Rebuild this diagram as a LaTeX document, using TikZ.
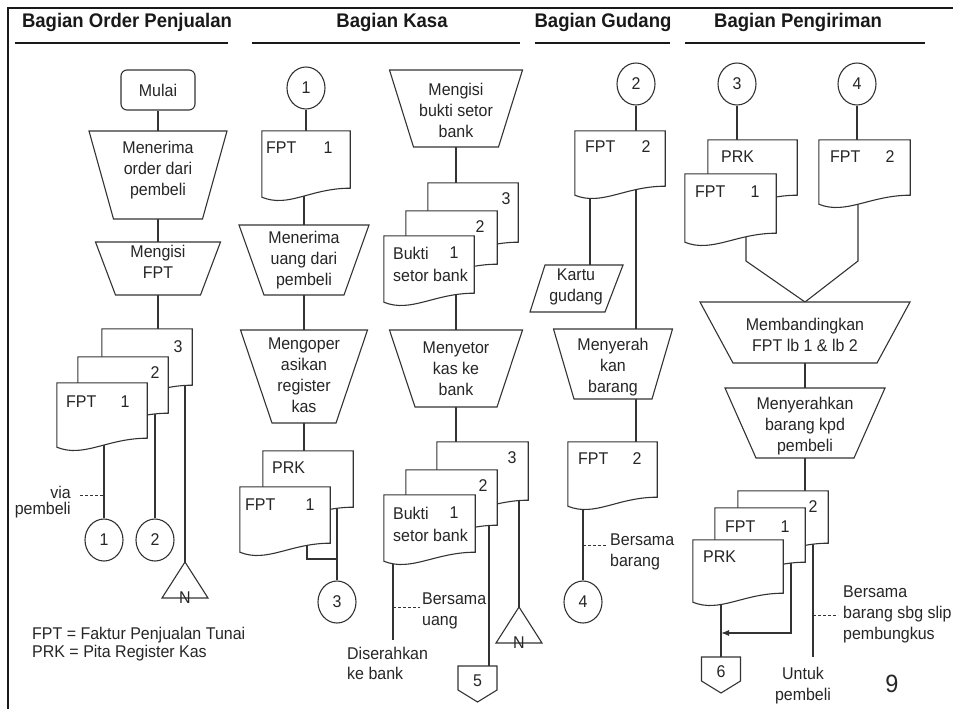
\documentclass[tikz,border=0pt]{standalone}
\usepackage{fontspec}
\setmainfont{Liberation Sans}[FakeStretch=0.94]
\usetikzlibrary{calc,shapes.geometric,arrows.meta}
\pgfdeclarelayer{bg}
\pgfsetlayers{bg,main}
\tikzset{
  txt/.style={inner sep=0pt, align=center, text=black!85, font=\fontsize{17}{21}\selectfont},
  head/.style={inner sep=0pt, text=black!90, font=\fontsize{19.7}{21}\selectfont\bfseries},
  shp/.style={draw=black!80, line width=1.1pt, fill=white},
  conline/.style={draw=black!80, line width=1.1pt},
  dsh/.style={draw=black!80, line width=1pt, dash pattern=on 3pt off 2pt},
  conn/.style={ellipse, shp, minimum width=38pt, minimum height=42pt, inner sep=0pt, text=black!85, font=\fontsize{17}{18}\selectfont},
  docbox/.style={inner sep=0pt, draw=none},
  rulel/.style={line width=2pt, draw=black!90},
}
\newcommand\docshape[5]{%
  \node[docbox, minimum width=#4pt, minimum height={(#5-#3)*1pt}] (#1) at ({#2+#4/2},{(#3+#5)/2}) {};
  \path[shp] (#1.north west) -- (#1.north east) -- (#1.south east) .. controls ($(#1.south east)+(-40,0)$) and ($(#1.south west)+(27,20)$) .. ($(#1.south west)+(0,9)$) -- cycle;
}
\newcommand\trapz[8]{%
  \path[shp] ({#2-#5},#3) -- ({#2+#5},#3) -- ({#2+#6},#4) -- ({#2-#6},#4) -- cycle;
  \coordinate (#1-n) at (#2,#3);
  \coordinate (#1-s) at (#2,#4);
  \node[txt] (#1) at (#2,#7) {#8};
}
\newcommand\offpg[4]{%
  \path[shp] ({#2-19.5},#3) -- ({#2+19.5},#3) -- ({#2+19.5},{#3+24}) -- (#2,{#3+36}) -- ({#2-19.5},{#3+24}) -- cycle;
  \coordinate (#1-n) at (#2,#3);
  \node[txt] (#1) at (#2,{#3+15}) {#4};
}
\newcommand\mergetri[5]{%
  \path[shp] (#2,#3) -- ({#2+#5},#4) -- ({#2-#5},#4) -- cycle;
  \coordinate (#1-n) at (#2,#3);
  \node[txt, anchor=base] (#1) at (#2,{#4+5}) {N};
}
\begin{document}
\begin{tikzpicture}[x=1pt,y=-1pt]
\useasboundingbox (0,0) rectangle (953,709);
% frame
\draw[rulel] (8,709) -- (8,8) -- (953,8);
% headings
\node[head] (h1) at (127,22) {Bagian Order Penjualan};
\node[head] (h2) at (392,22) {Bagian Kasa};
\node[head] (h3) at (603,22) {Bagian Gudang};
\node[head] (h4) at (798,22) {Bagian Pengiriman};
\draw[rulel] (15,43) -- (228,43);
\draw[rulel] (252,43) -- (520,43);
\draw[rulel] (535,43) -- (670,43);
\draw[rulel] (685,43) -- (925,43);

% ===== Column 1 =====
\node[txt, shp, rounded corners=6pt, minimum width=74pt, minimum height=40pt] (mulai) at (158,90) {Mulai};
\trapz{t1}{158}{131}{219}{69}{44.5}{170}{Menerima\\order dari\\pembeli}
\trapz{t2}{158}{242}{295}{62.5}{42.5}{262}{Mengisi\\FPT}
\docshape{d3}{102}{329}{90}{385}
\node[txt] (d3n) at (178,347) {3};
\docshape{d2}{78}{357}{90}{413}
\node[txt] (d2n) at (155,373) {2};
\docshape{d1}{57}{383}{90}{438}
\node[txt, anchor=west] (d1a) at (66,402) {FPT};
\node[txt] (d1b) at (125,402) {1};
\node[conn] (c1) at (104,540) {1};
\node[conn] (c2) at (155,540) {2};
\mergetri{n1}{185}{562}{598}{23}
\node[txt, anchor=east, align=right, font=\fontsize{17}{16.5}\selectfont] (via) at (71,502) {via\\pembeli};
\coordinate (viad) at (80,495);
\node[txt, anchor=west, align=left, font=\fontsize{17}{18}\selectfont] (leg) at (32,644) {FPT = Faktur Penjualan Tunai\\PRK = Pita Register Kas};

% ===== Column 2 left =====
\node[conn] (kc1) at (306,88) {1};
\docshape{kd1}{262}{131}{88}{188}
\node[txt, anchor=west] (kd1a) at (266,148) {FPT};
\node[txt] (kd1b) at (328,148) {1};
\trapz{kt1}{304}{225}{295}{65}{40}{260}{Menerima\\uang dari\\pembeli}
\trapz{kt2}{304}{330}{423}{63.5}{32}{375}{Mengoper\\asikan\\register\\kas}
\docshape{kp}{263}{451}{90}{507}
\node[txt, anchor=west] (kpa) at (272,468) {PRK};
\docshape{kf}{240}{487}{90}{543}
\node[txt, anchor=west] (kfa) at (245,505) {FPT};
\node[txt] (kfb) at (310,505) {1};
\node[conn] (kc3) at (337,602) {3};
\coordinate (kj) at (337,559);

% ===== Column 2 right =====
\trapz{kt3}{456}{70}{147}{66.5}{42.5}{110}{Mengisi\\bukti setor\\bank}
\docshape{b3}{428}{183}{90}{242}
\node[txt] (b3n) at (506,199) {3};
\docshape{b2}{406}{211}{91}{264}
\node[txt] (b2n) at (480,227) {2};
\docshape{b1}{384}{236}{90}{293}
\node[txt, anchor=west] (b1a) at (393,253) {Bukti};
\node[txt] (b1b) at (454,253) {1};
\node[txt, anchor=west] (b1c) at (393,275) {setor bank};
\trapz{kt4}{456}{330}{407}{66.5}{41}{369}{Menyetor\\kas ke\\bank}
\docshape{e3}{437}{442}{91}{500}
\node[txt] (e3n) at (512,458) {3};
\docshape{e2}{406}{470}{91}{525}
\node[txt] (e2n) at (483,486) {2};
\docshape{e1}{384}{495}{91}{552}
\node[txt, anchor=west] (e1a) at (393,513) {Bukti};
\node[txt] (e1b) at (454,513) {1};
\node[txt, anchor=west] (e1c) at (393,535) {setor bank};
\offpg{k5}{477.5}{666}{5}
\mergetri{n2}{519}{607}{643}{23}
\coordinate (dis) at (393,640);
\coordinate (uangd) at (420,607);
\node[txt, anchor=west, align=left, font=\fontsize{17}{20}\selectfont] (disl) at (347,663) {Diserahkan\\ke bank};
\node[txt, anchor=west, align=left, font=\fontsize{17}{21}\selectfont] (uangl) at (422,611) {Bersama\\uang};

% ===== Column 3 =====
\node[conn] (g2) at (636,84) {2};
\docshape{gd1}{575}{131}{90}{186}
\node[txt, anchor=west] (gd1a) at (585,147) {FPT};
\node[txt] (gd1b) at (646,147) {2};
\path[shp] (545,265) -- (623,265) -- (605,312) -- (530,312) -- cycle;
\node[txt] (kartu) at (576,287) {Kartu\\gudang};
\coordinate (kartu-n) at (590,265);
\trapz{gt}{613}{329}{399}{59.5}{39}{367}{Menyerah\\kan\\barang}
\docshape{gd2}{568}{442}{89}{497}
\node[txt, anchor=west] (gd2a) at (578,459) {FPT};
\node[txt] (gd2b) at (637,459) {2};
\node[conn] (g4) at (583,602) {4};
\coordinate (bbd) at (607,545);
\node[txt, anchor=west, align=left, font=\fontsize{17}{21}\selectfont] (bbl) at (610,551.5) {Bersama\\barang};

% ===== Column 4 =====
\node[conn] (p3) at (737,84) {3};
\node[conn] (p4) at (857,84) {4};
\docshape{pp}{708}{140}{89}{195}
\node[txt, anchor=west] (ppa) at (721,157) {PRK};
\docshape{pf}{685}{174}{91}{233}
\node[txt, anchor=west] (pfa) at (695,192) {FPT};
\node[txt] (pfb) at (755,192) {1};
\docshape{pf2}{819}{140}{91}{195}
\node[txt, anchor=west] (pf2a) at (830,157) {FPT};
\node[txt] (pf2b) at (890,157) {2};
\coordinate (vl) at (746,261);
\coordinate (vr) at (858,261);
\trapz{pm}{805}{302}{363}{105}{72}{335}{Membandingkan\\FPT lb 1 \& lb 2}
\trapz{pn}{805}{388}{458}{80}{49}{426}{Menyerahkan\\barang kpd\\pembeli}
\docshape{q2}{738}{491}{90}{543}
\node[txt] (q2n) at (813,507) {2};
\docshape{q1}{715}{508}{90}{562}
\node[txt, anchor=west] (q1a) at (725,527) {FPT};
\node[txt] (q1b) at (785,527) {1};
\docshape{q0}{693}{540}{90}{593}
\node[txt, anchor=west] (q0a) at (703,557) {PRK};
\offpg{p6}{721}{657}{6}
\coordinate (qa) at (791,633);
\coordinate (qb) at (813,657);
\coordinate (qd) at (838,615);
\node[txt, anchor=west, align=left, font=\fontsize{17}{21}\selectfont] (qdl) at (843,614.5) {Bersama\\barang sbg slip\\pembungkus};
\node[txt, font=\fontsize{17}{21}\selectfont] (untuk) at (803,685.5) {Untuk\\pembeli};
\node[txt, font=\fontsize{25}{27}\selectfont] (pg) at (892,684) {9};

% ===== connectors =====
\begin{pgfonlayer}{bg}
\draw[conline] (mulai.south) -- (t1-n);
\draw[conline] (t1-s) -- (t2-n);
\draw[conline] (t2-s) -- (t2-s |- d3.north);
\draw[conline] (d1.center -| c1) -- (c1.north);
\draw[conline] (d2.center -| c2) -- (c2.north);
\draw[conline] (d3.center -| n1-n) -- (n1-n);
\draw[dsh] (viad) -- (viad -| c1);

\draw[conline] (kc1.south) -- (kc1.south |- kd1.north);
\draw[conline] (kd1.center -| kt1-n) -- (kt1-n);
\draw[conline] (kt1-s) -- (kt2-n);
\draw[conline] (kt2-s) -- (kt2-s |- kp.north);
\draw[conline] (kp.center -| kc3) -- (kc3.north);
\draw[conline] ($(kf.center)+(22,0)$) |- (kj);

\draw[conline] (kt3-s) -- (kt3-s |- b3.north);
\draw[conline] (b1.center -| kt4-n) -- (kt4-n);
\draw[conline] (kt4-s) -- (kt4-s |- e3.north);
\draw[conline] (e1.center -| dis) -- (dis);
\draw[dsh] (uangd -| dis) -- (uangd);
\draw[conline] ($(e2.center)+(37.5,0)$) -- ($(k5-n)+(11.5,0)$);
\draw[conline] (e3.center -| n2-n) -- (n2-n);

\draw[conline] (g2.south) -- (g2.south |- gd1.north);
\draw[conline] (gd1.center -| kartu-n) -- (kartu-n);
\draw[conline] (gd1.center -| g2) -- (g2 |- gt-n);
\draw[conline] (g2 |- gt-s) -- (g2 |- gd2.north);
\draw[conline] (gd2.center -| g4) -- (g4.north);
\draw[dsh] (bbd -| g4) -- (bbd);

\draw[conline] (p3.south) -- (p3.south |- pp.north);
\draw[conline] (p4.south) -- (p4.south |- pf2.north);
\draw[conline] (pf.center -| vl) -- (vl) -- (pm-n);
\draw[conline] (pf2.center -| vr) -- (vr) -- (pm-n);
\draw[conline] (pm-s) -- (pn-n);
\draw[conline] (pn-s) -- (pn-s |- q2.north);
\draw[conline] (q0.center -| p6-n) -- (p6-n);
\draw[conline, -{Latex[length=8pt,width=6pt]}] (q1.center -| qa) -- (qa) -- (qa -| p6-n);
\draw[conline] (q2.center -| qb) -- (qb);
\draw[dsh] (qd -| qb) -- (qd);
\end{pgfonlayer}
\end{tikzpicture}
\end{document}
